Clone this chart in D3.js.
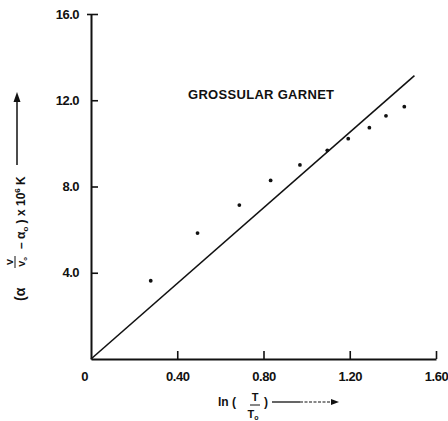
<!DOCTYPE html>
<html>
<head>
<meta charset="utf-8">
<script src="https://cdn.jsdelivr.net/npm/d3@7/dist/d3.min.js"></script>
<style>
  html, body { margin: 0; padding: 0; background: #fff; }
  svg { display: block; }
  text { font-family: "Liberation Sans", Arial, sans-serif; font-weight: bold; fill: #111; }
</style>
</head>
<body>
<svg id="chart" width="448" height="421"></svg>
<script>
// Thermal expansion of grossular garnet vs ln(T/T0)
const lnRatio = [0.277, 0.494, 0.688, 0.833, 0.969, 1.096, 1.193, 1.291, 1.368, 1.453];
const alphaDiff = [3.63, 5.84, 7.14, 8.28, 9.00, 9.68, 10.22, 10.73, 11.28, 11.70];
// straight-line fit through the origin
const fitX = [0, 1.50];
const fitY = [0, 13.14];
const xTicks = [0, 0.4, 0.8, 1.2, 1.6];
const xTickLabels = ["0", "0.40", "0.80", "1.20", "1.60"];
const yTicks = [4, 8, 12, 16];
const yTickLabels = ["4.0", "8.0", "12.0", "16.0"];
const seriesName = "GROSSULAR GARNET";

const svg = d3.select("#chart");
const x = d3.scaleLinear().domain([0, 1.6]).range([91, 436]);
const y = d3.scaleLinear().domain([0, 16]).range([359, 14]);

// axes with inward ticks
const xAxis = d3.axisBottom(x)
  .tickValues(xTicks)
  .tickFormat((d, i) => xTickLabels[i])
  .tickSizeInner(-8).tickSizeOuter(0).tickPadding(13);
const gx = svg.append("g").attr("transform", `translate(0,${y(0)})`).call(xAxis);
gx.select(".domain").attr("stroke", "#111").attr("stroke-width", 2);
gx.selectAll(".tick line").attr("stroke", "#111").attr("stroke-width", 1.6);
gx.selectAll(".tick text").attr("font-size", 13).attr("letter-spacing", -0.5)
  .attr("dx", d => d === 0 ? -7 : 0);
gx.selectAll(".tick").filter(d => d === 0).select("line").remove();

const yAxis = d3.axisLeft(y)
  .tickValues(yTicks)
  .tickFormat((d, i) => yTickLabels[i])
  .tickSizeInner(-7).tickSizeOuter(0).tickPadding(12);
const gy = svg.append("g").attr("transform", `translate(${x(0)},0)`).call(yAxis);
gy.select(".domain").attr("stroke", "#111").attr("stroke-width", 2);
gy.selectAll(".tick line").attr("stroke", "#111").attr("stroke-width", 1.6);
gy.selectAll(".tick text").attr("font-size", 13).attr("letter-spacing", -0.5);
// small left stub at the top tick
gy.selectAll(".tick").filter(d => d === 16).append("line")
  .attr("x1", -4).attr("x2", 0).attr("stroke", "#111").attr("stroke-width", 1.6);

// fitted line
const line = d3.line().x(d => x(d[0])).y(d => y(d[1]));
svg.append("path")
  .datum(d3.zip(fitX, fitY))
  .attr("d", line)
  .attr("fill", "none").attr("stroke", "#111").attr("stroke-width", 1.6);

// measured points
svg.append("g").selectAll("circle")
  .data(d3.zip(lnRatio, alphaDiff))
  .join("circle")
  .attr("cx", d => x(d[0])).attr("cy", d => y(d[1]))
  .attr("r", 1.9).attr("fill", "#111");

// series label
svg.append("text")
  .attr("x", 188).attr("y", 99)
  .attr("font-size", 13).attr("letter-spacing", 0.3)
  .text(seriesName);

// x-axis title: ln ( T / T0 ) with arrow
const xt = svg.append("g");
xt.append("text").attr("x", 218).attr("y", 406).attr("font-size", 12).text("ln (");
xt.append("text").attr("x", 255).attr("y", 401).attr("font-size", 11).attr("text-anchor", "middle").text("T");
xt.append("line").attr("x1", 250).attr("x2", 260).attr("y1", 405).attr("y2", 405).attr("stroke", "#111").attr("stroke-width", 1);
xt.append("text").attr("x", 253).attr("y", 418).attr("font-size", 11).attr("text-anchor", "middle")
  .text("T").append("tspan").attr("font-size", 7).attr("dy", 2).text("o");
xt.append("text").attr("x", 264).attr("y", 406).attr("font-size", 12).text(")");
xt.append("line").attr("x1", 272).attr("x2", 300).attr("y1", 402).attr("y2", 402).attr("stroke", "#111").attr("stroke-width", 1.3);
xt.append("line").attr("x1", 300).attr("x2", 332).attr("y1", 402).attr("y2", 402).attr("stroke", "#111").attr("stroke-width", 1.1).attr("stroke-dasharray", "3,1.5");
xt.append("path").attr("d", "M331,399 L339,402 L331,405 Z").attr("fill", "#111");

// y-axis title, rotated to read upward
const yt = svg.append("g").attr("transform", "translate(20,0) rotate(-90)");
yt.append("text").attr("x", -301).attr("y", 5).attr("font-size", 14).text("(α");
yt.append("text").attr("x", -262).attr("y", -7).attr("font-size", 9).attr("text-anchor", "middle").text("V");
yt.append("line").attr("x1", -268).attr("x2", -256).attr("y1", -5).attr("y2", -5).attr("stroke", "#111").attr("stroke-width", 1);
yt.append("text").attr("x", -262).attr("y", 5).attr("font-size", 9).attr("text-anchor", "middle")
  .text("V").append("tspan").attr("font-size", 6).attr("dy", 2).text("o");
const ytl = yt.append("text").attr("x", -249).attr("y", 5).attr("font-size", 12);
ytl.append("tspan").text("– α");
ytl.append("tspan").attr("font-size", 8).attr("dy", 3).text("o");
ytl.append("tspan").attr("dy", -3).text(" ) x 10");
ytl.append("tspan").attr("font-size", 8).attr("dy", -5).text("6");
ytl.append("tspan").attr("dy", 5).text(" K");
svg.append("line").attr("x1", 17).attr("x2", 17).attr("y1", 165).attr("y2", 100).attr("stroke", "#111").attr("stroke-width", 1.5);
svg.append("path").attr("d", "M13.5,102 L17,92 L20.5,102 Z").attr("fill", "#111");
</script>
</body>
</html>
